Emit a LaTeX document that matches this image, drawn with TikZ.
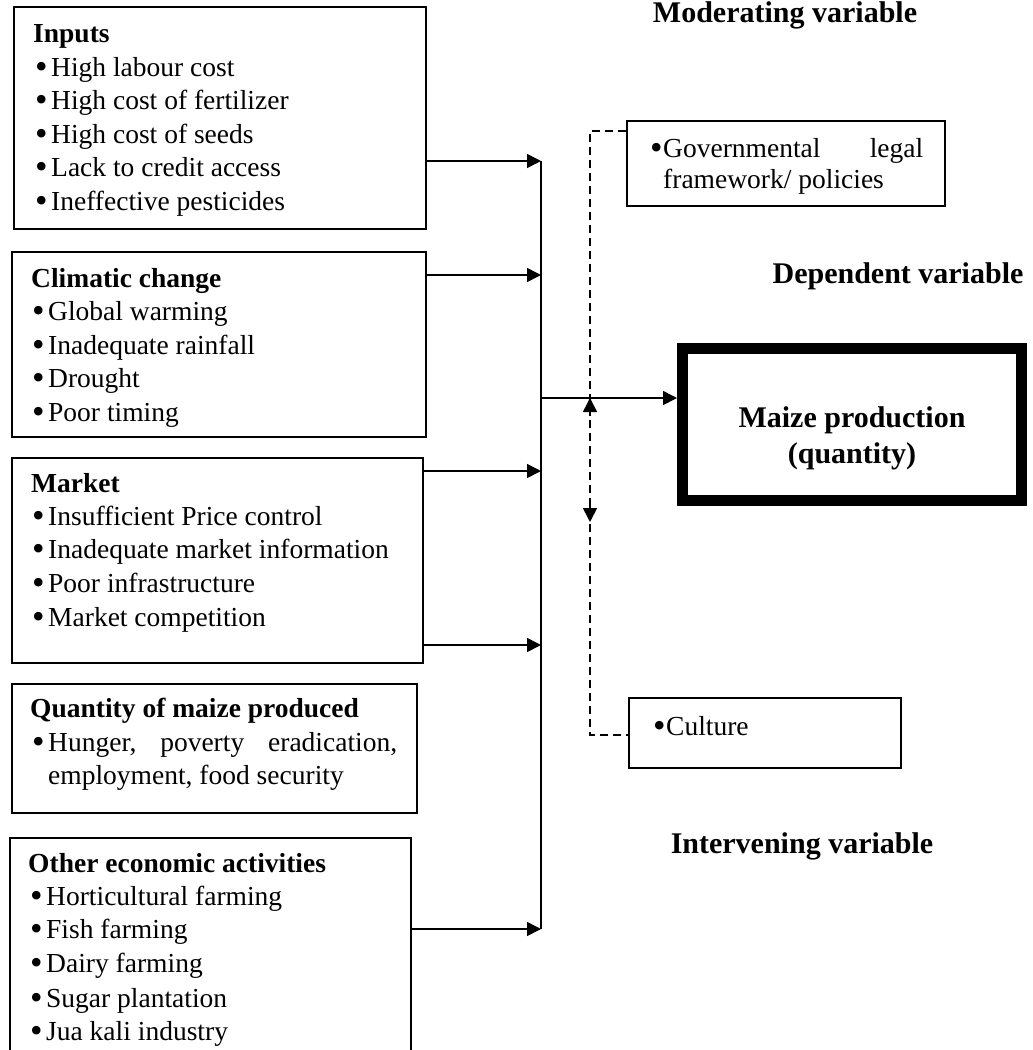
\documentclass[tikz,border=0pt]{standalone}
\usepackage{fontspec}
\setmainfont{Liberation Serif}
\usetikzlibrary{arrows.meta}
\newcommand\bigbul{\raisebox{-0.1em}{\scalebox{1.3}{\textbullet}}}
\newcommand\bitem[2][16pt]{\makebox[#1][l]{\bigbul}#2}
\begin{document}
\begin{tikzpicture}[x=1pt,y=-1pt,
  box/.style={draw, line width=1.6pt, inner sep=0pt, anchor=north west},
  txt/.style={inner sep=0pt, anchor=base west, font=\fontsize{27.5}{33}\selectfont},
  head/.style={inner sep=0pt, anchor=base, font=\fontsize{30}{36}\selectfont\bfseries},
  conn/.style={line width=1.6pt, -{Triangle[length=14pt,width=14pt]}},
  busline/.style={line width=1.6pt},
  modline/.style={line width=1.5pt, dash pattern=on 8pt off 5pt}
]
\useasboundingbox (0,0) rectangle (1033,1050);
\clip (0,0) rectangle (1033,1050);

% ---------- independent variable boxes ----------
\node[box, minimum width=412pt, minimum height=222pt] (inputs) at (13,6) {};
\node[txt] (inputs-h) at (33,42) {\bfseries Inputs};
\foreach \t/\yy [count=\i] in {High labour cost/76, High cost of fertilizer/109, High cost of seeds/143, Lack to credit access/176, Ineffective pesticides/210}
  \node[txt] (inputs-\i) at (35,\yy) {\bitem{\t}};

\node[box, minimum width=414pt, minimum height=185pt] (climatic) at (11,251) {};
\node[txt] (climatic-h) at (31,287) {\bfseries Climatic change};
\foreach \t/\yy [count=\i] in {Global warming/320, Inadequate rainfall/354, Drought/387, Poor timing/421}
  \node[txt] (climatic-\i) at (32,\yy) {\bitem{\t}};

\node[box, minimum width=411pt, minimum height=205pt] (market) at (11,457) {};
\node[txt] (market-h) at (31,492) {\bfseries Market};
\foreach \t/\yy [count=\i] in {Insufficient Price control/525, Inadequate market information/558, Poor infrastructure/592, Market competition/626}
  \node[txt] (market-\i) at (32,\yy) {\bitem{\t}};

\node[box, minimum width=405pt, minimum height=129pt] (quantity) at (11,683) {};
\node[txt] (quantity-h) at (30,717) {\bfseries Quantity of maize produced};
\node[txt] (quantity-1) at (32,751) {\bitem{\hbox to 349pt{Hunger,\hfil poverty\hfil eradication,}}};
\node[txt] (quantity-2) at (48,784) {employment, food security};

\node[box, minimum width=401pt, minimum height=233pt] (other) at (9,837) {};
\node[txt] (other-h) at (28,872) {\bfseries Other economic activities};
\foreach \t/\yy [count=\i] in {Horticultural farming/905, Fish farming/938, Dairy farming/972, Sugar plantation/1007, Jua kali industry/1040}
  \node[txt] (other-\i) at (30,\yy) {\bitem{\t}};

% ---------- moderating / intervening boxes ----------
\node[head] (moderating) at (785,22) {Moderating variable};
\node[box, minimum width=318pt, minimum height=85pt] (gov) at (626,120) {};
\node[txt] (gov-1) at (650,157) {\bitem[13pt]{\hbox to 260pt{Governmental\hfil legal}}};
\node[txt] (gov-2) at (663,188) {framework/ policies};

\node[head] (dependent) at (898,283) {Dependent variable};

\node[box, minimum width=272pt, minimum height=70pt] (culture) at (628,697) {};
\node[txt] (culture-1) at (653,735) {\bitem[13pt]{Culture}};
\node[head] (intervening) at (802,853) {Intervening variable};

% ---------- dependent variable ----------
\node[draw, line width=11pt, minimum width=339pt, minimum height=152pt, inner sep=0pt] (maize) at (852,424.5) {};
\node[head] (maize-1) at (852,427) {Maize production};
\node[head] (maize-2) at (852,463) {(quantity)};

% ---------- connectors ----------
\coordinate (b-in) at (541,161);
\coordinate (b-cl) at (541,275);
\coordinate (b-m1) at (541,471);
\coordinate (b-m2) at (541,645);
\coordinate (b-ot) at (541,929);
\coordinate (b-out) at (541,398);
\draw[busline] (b-in) -- (b-ot);
\draw[conn] (inputs.east |- b-in) -- (b-in);
\draw[conn] (climatic.east |- b-cl) -- (b-cl);
\draw[conn] (market.east |- b-m1) -- (b-m1);
\draw[conn] (market.east |- b-m2) -- (b-m2);
\draw[conn] (other.east |- b-ot) -- (b-ot);
\draw[conn] (b-out) -- (maize.west |- b-out);

\coordinate (m-top) at (590,131);
\coordinate (m-bot) at (590,735);
\draw[modline] (gov.west |- m-top) -- (m-top) -- (m-bot) -- (culture.west |- m-bot);
\coordinate (m-upS) at (590,416);
\coordinate (m-up) at (590,398);
\coordinate (m-dnS) at (590,505);
\coordinate (m-dn) at (590,522);
\draw[conn] (m-upS) -- (m-up);
\draw[conn] (m-dnS) -- (m-dn);
\end{tikzpicture}
\end{document}
